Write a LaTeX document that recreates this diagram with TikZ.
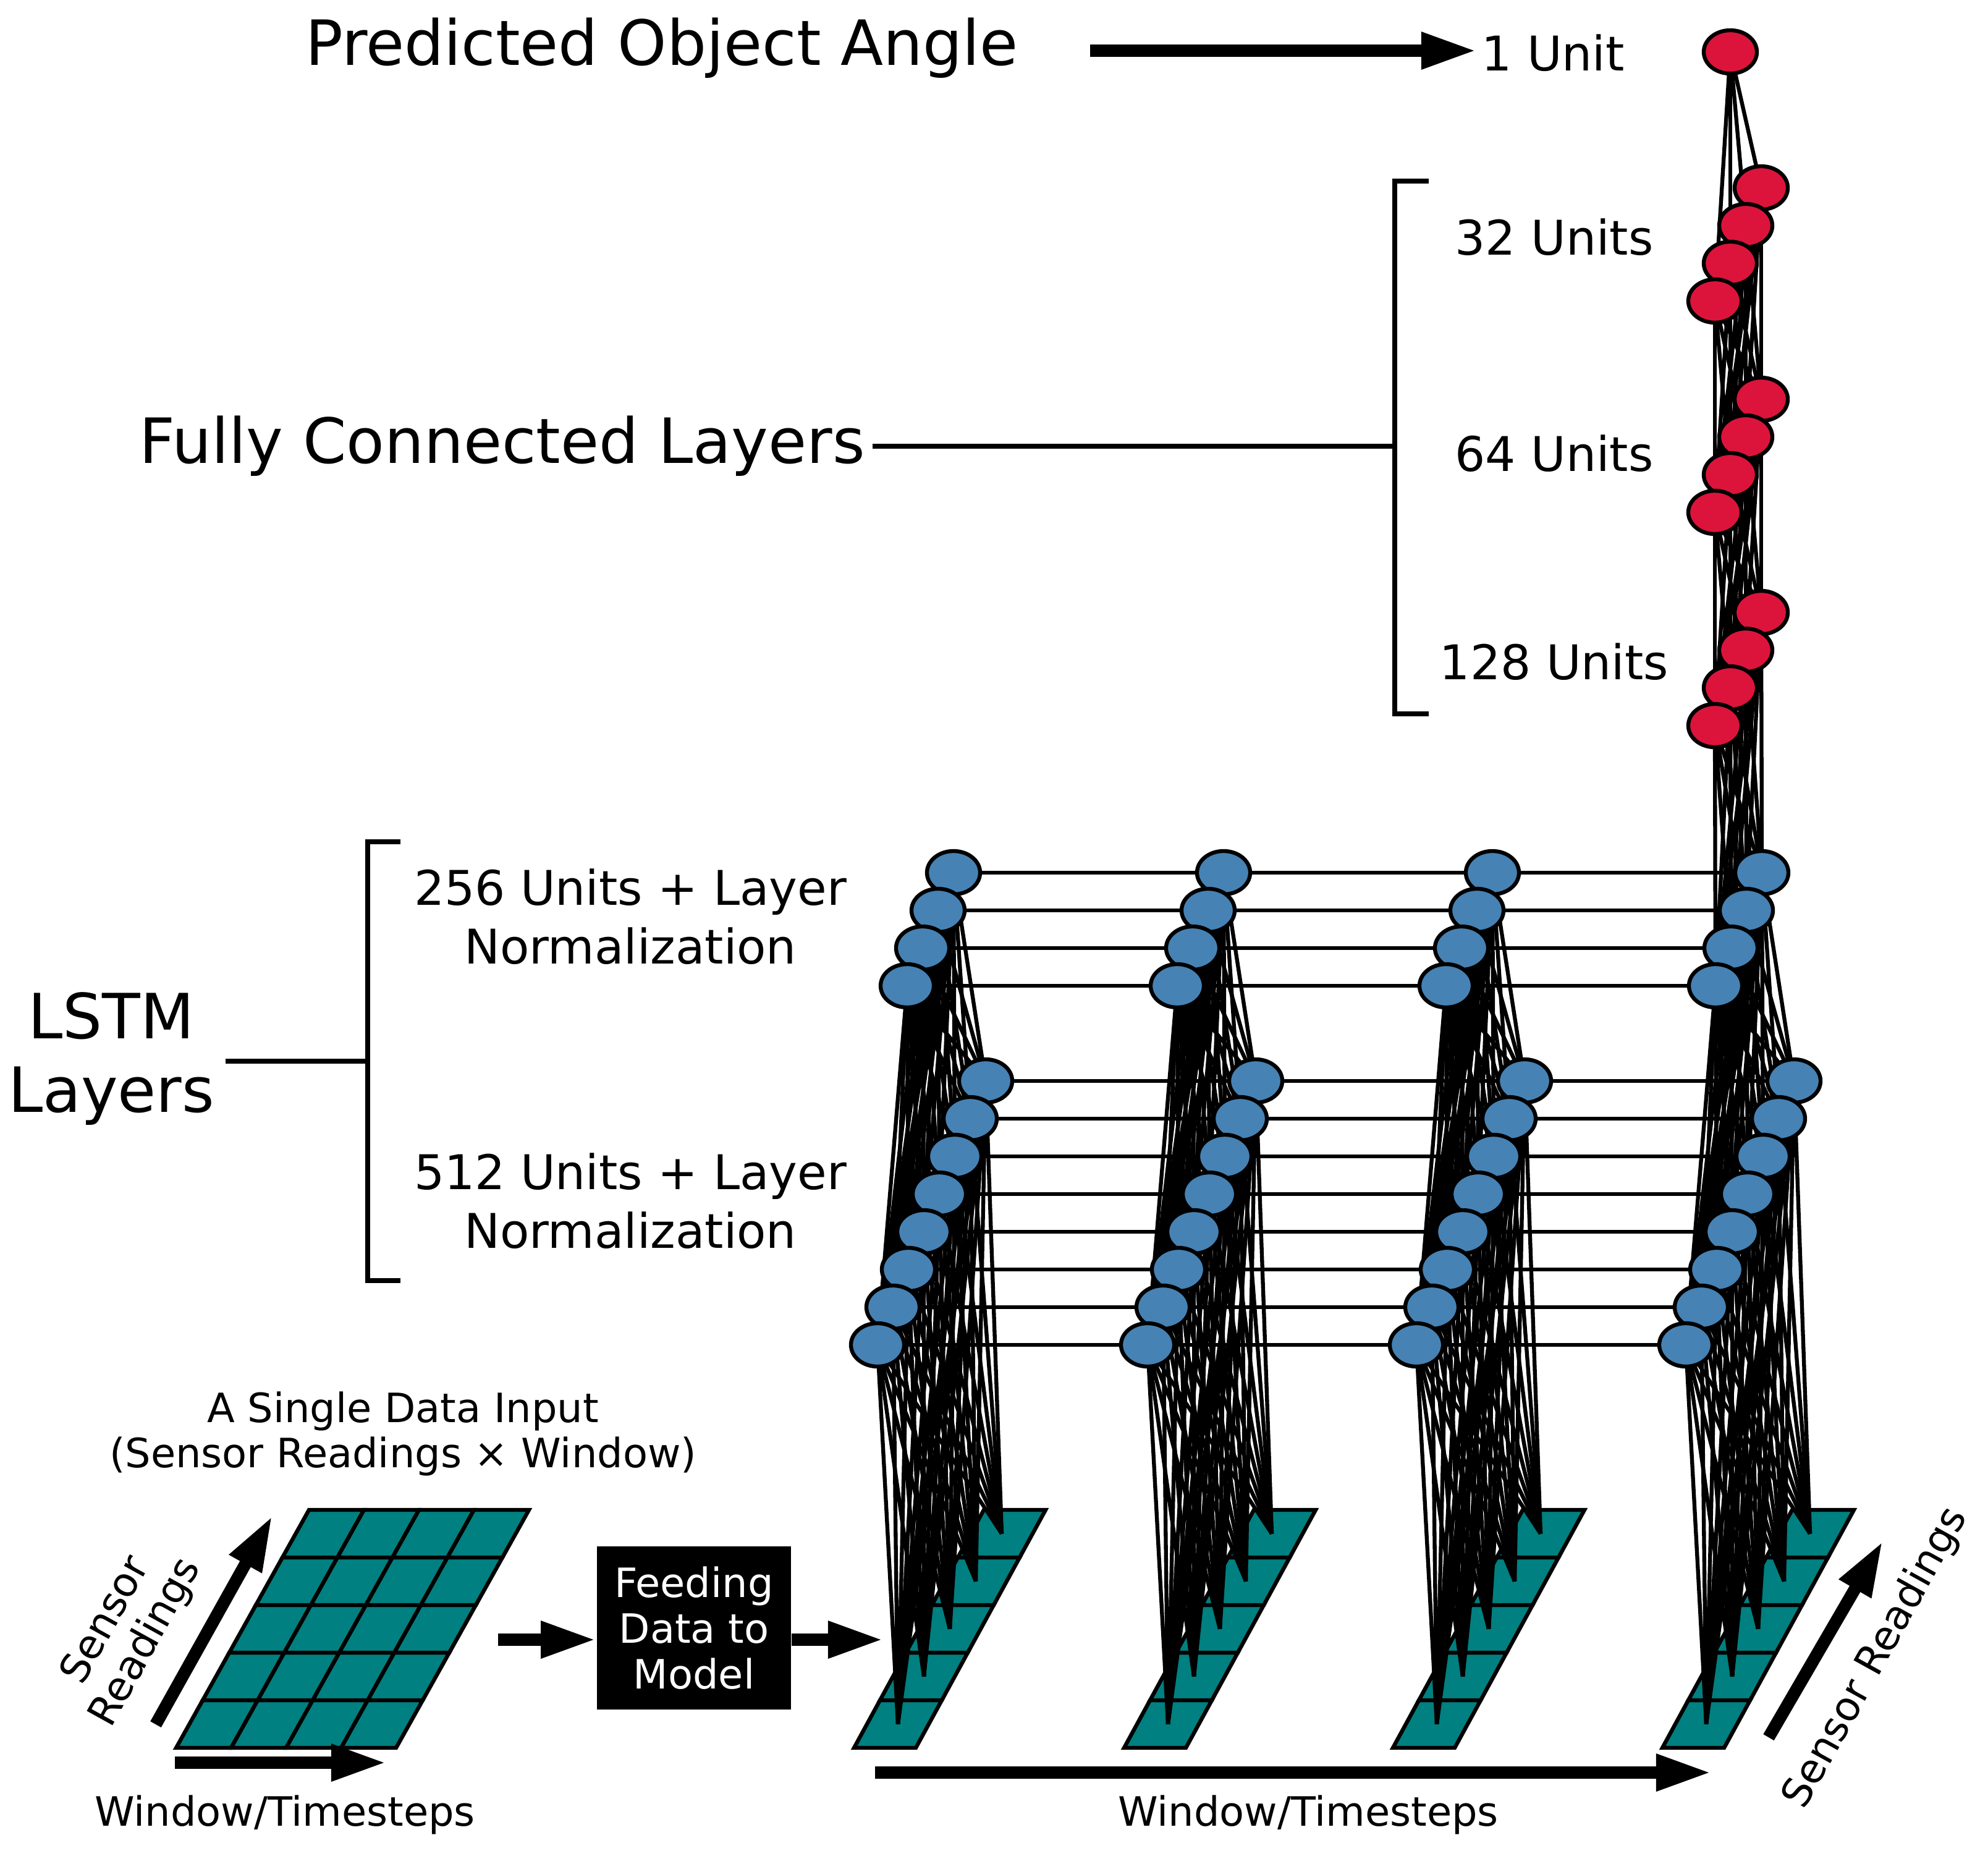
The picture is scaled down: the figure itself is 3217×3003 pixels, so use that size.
\documentclass[tikz,border=0pt]{standalone}
\usepackage{fontspec}
\setmainfont{DejaVu Sans}
\usetikzlibrary{shapes.geometric,arrows.meta}
\definecolor{nblue}{HTML}{4682B4}
\definecolor{nred}{HTML}{DC143C}
\definecolor{teal2}{HTML}{008080}
\pgfdeclarelayer{slices}\pgfdeclarelayer{edges}
\pgfsetlayers{slices,edges,main}
\begin{document}
\begin{tikzpicture}[x=0.01cm,y=-0.01cm,
  neuron/.style={ellipse,draw=black,line width=1.8pt,minimum width=0.86cm,minimum height=0.70cm,inner sep=0pt},
  bn/.style={neuron,fill=nblue}, rn/.style={neuron,fill=nred},
  conn/.style={line width=1.8pt,black},
  cell/.style={fill=teal2,draw=black,line width=1.8pt},
  big/.style={line width=0.2cm,-{Triangle[length=0.9cm,width=0.55cm]}},
  brk/.style={line width=2.4pt},
  bigt/.style={font=\fontsize{28.7}{34}\selectfont},
  midt/.style={font=\fontsize{22}{25}\selectfont,align=center},
  smt/.style={font=\fontsize{18.6}{21}\selectfont,align=center}]
\useasboundingbox (0,0) rectangle (3217,3003);
% slices
\begin{pgfonlayer}{slices}
\foreach \c/\o in {1/0,2/437,3/872,4/1308}{
  \foreach \r in {0,...,4}{
    \draw[cell] ({1382+\o+42*\r},{2828-77*\r}) -- ++(100,0) -- ++(42,-77) -- ++(-100,0) -- cycle;
    \coordinate (S\c-\r) at ({1382+\o+42*\r+71},{2828-77*\r-38.5});
  }
}
% big grid
\foreach \r in {0,...,4}{\foreach \k in {0,...,3}{
  \draw[cell] ({285+43*\r+89*\k},{2828-77*\r}) -- ++(89,0) -- ++(43,-77) -- ++(-89,0) -- cycle;
}}
\end{pgfonlayer}
% neurons
\foreach \c/\o in {1/0,2/437,3/872,4/1308}{
  \foreach \i in {1,...,4}
    \node[bn] (L2-\c-\i) at ({1543+\o-25*(\i-1)},{1412+61*(\i-1)}) {};
  \foreach \i in {1,...,8}
    \node[bn] (L1-\c-\i) at ({1595+\o-25*(\i-1)},{1749+61*(\i-1)}) {};
}
\foreach \n/\b in {F1/991,F2/646,F3/304}
  \foreach \i in {1,...,4}
    \node[rn] (\n-\i) at ({2850-25*(\i-1)},{\b+61*(\i-1)}) {};
\node[rn] (out) at (2800,84) {};
% edges
\begin{pgfonlayer}{edges}
\foreach \c in {1,...,4}{
  \foreach \i in {1,...,8}{
    \foreach \r in {0,...,4} \draw[conn] (L1-\c-\i.center) -- (S\c-\r);
    \foreach \j in {1,...,4} \draw[conn] (L1-\c-\i.center) -- (L2-\c-\j.center);
  }
}
\foreach \i in {1,...,4} \draw[conn] (L2-1-\i.center) -- (L2-4-\i.center);
\foreach \i in {1,...,8} \draw[conn] (L1-1-\i.center) -- (L1-4-\i.center);
\foreach \i in {1,...,4}{
  \foreach \j in {1,...,4}{
    \draw[conn] (L2-4-\i.center) -- (F1-\j.center);
    \draw[conn] (F1-\i.center) -- (F2-\j.center);
    \draw[conn] (F2-\i.center) -- (F3-\j.center);
  }
  \draw[conn] (F3-\i.center) -- (out.center);
}
\end{pgfonlayer}
% texts
\node[bigt] (tpred) at (1071,78) {Predicted Object Angle};
\node[midt] (t1) at (2513,86) {1 Unit};
\coordinate (pa) at (1764,82); \coordinate (pb) at (2390,82);
\draw[big] (pa) -- (pb);
\node[midt] (t32) at (2515,384) {32 Units};
\node[midt] (t64) at (2515,734) {64 Units};
\node[midt] (t128) at (2515,1071) {128 Units};
\node[bigt,anchor=east] (tfc) at (1412,722) {Fully Connected Layers};
\coordinate (fb) at (2257,722);
\draw[brk] (tfc.east) -- (fb);
\draw[brk] (2312,293) -- (2257,293) -- (2257,1155) -- (2312,1155);
\node[bigt,align=center] (tlstm) at (180,1713) {LSTM\\Layers};
\coordinate (lb) at (595,1717);
\draw[brk] (365,1717) -- (lb);
\draw[brk] (648,1362) -- (595,1362) -- (595,2072) -- (648,2072);
\node[midt,font=\fontsize{22}{27}\selectfont] (t256) at (1020,1483) {256 Units + Layer\\Normalization};
\node[midt,font=\fontsize{22}{27}\selectfont] (t512) at (1020,1943) {512 Units + Layer\\Normalization};
\node[smt] (tin) at (652,2320) {A Single Data Input\\(Sensor Readings × Window)};
\node[smt] (tw1) at (461,2936) {Window/Timesteps};
\node[smt] (tw2) at (2117,2936) {Window/Timesteps};
\node[smt,fill=black,text=white,minimum width=3.14cm,minimum height=2.63cm,inner sep=0pt] (feed) at (1123,2634) {Feeding\\Data to\\Model};
\coordinate (ga) at (806,2653); \coordinate (gb) at (1430,2653);
\draw[big] (ga) -- (ga -| feed.west);
\draw[big] (gb -| feed.east) -- (gb);
\coordinate (wa) at (1416,2868); \coordinate (wb) at (2770,2868);
\draw[big] (wa) -- (wb);
\coordinate (xa) at (283,2852); \coordinate (xb) at (626,2852);
\draw[big] (xa) -- (xb);
\coordinate (sa) at (252,2790); \coordinate (sb) at (441,2452);
\draw[big] (sa) -- (sb);
\node[smt,rotate=61] (ts1) at (205,2640) {Sensor\\Readings};
\coordinate (ra) at (2862,2811); \coordinate (rb) at (3047,2493);
\draw[big] (ra) -- (rb);
\node[smt,rotate=61] (ts2) at (3036,2683) {Sensor Readings};
\end{tikzpicture}
\end{document}
